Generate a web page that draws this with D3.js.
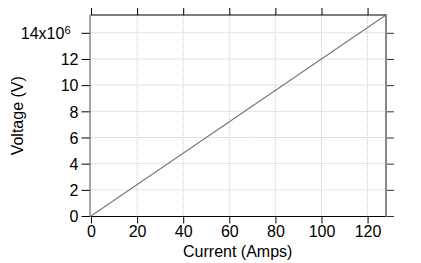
<!DOCTYPE html>
<html><head><meta charset="utf-8">
<script src="https://cdn.jsdelivr.net/npm/d3@7"></script>
<style>body{margin:0;background:#fff}svg{display:block}text{font-family:"Liberation Sans",Arial,sans-serif}</style>
</head><body><svg id="c" width="421" height="263"></svg>
<script>
const current = [0, 128];
const voltage = [0, 15.36e6];
const xTicks = [0, 20, 40, 60, 80, 100, 120];
const yTicks = [0, 2e6, 4e6, 6e6, 8e6, 10e6, 12e6, 14e6];
const yTickLabels = ["0", "2", "4", "6", "8", "10", "12", "14"];
const xLabel = "Current (Amps)";
const yLabel = "Voltage (V)";

const svg = d3.select("#c");
const L = 90.5, R = 386, T = 15, B = 216.5;
const x = d3.scaleLinear().domain([0, 128]).range([L + 0.5, R]);
const y = d3.scaleLinear().domain([0, 15.36e6]).range([B - 0.5, T]);

// grid
const g = svg.append("g");
g.selectAll(".gx").data(xTicks.slice(1)).join("line")
  .attr("x1", d => x(d)).attr("x2", d => x(d)).attr("y1", T).attr("y2", B)
  .attr("stroke", "#c8c8c8").attr("stroke-width", 1).attr("stroke-dasharray", "1,1");
g.selectAll(".gy").data(yTicks.slice(1)).join("line")
  .attr("x1", L).attr("x2", R).attr("y1", d => y(d)).attr("y2", d => y(d))
  .attr("stroke", "#c8c8c8").attr("stroke-width", 1).attr("stroke-dasharray", "1,1");

// data line
svg.append("path").datum(current.map((c, i) => [c, voltage[i]]))
  .attr("d", d3.line().x(d => x(d[0])).y(d => y(d[1])))
  .attr("fill", "none").attr("stroke", "#777").attr("stroke-width", 1.1);

function styleAxis(sel, col, w) {
  sel.select(".domain").remove();
  sel.selectAll(".tick line").attr("stroke", col).attr("stroke-width", w);
  sel.selectAll(".tick text").attr("fill", "#000").style("font-size", "16px")
    .style("font-family", '"Liberation Sans",Arial,sans-serif');
}
// bottom axis
const ax = svg.append("g").attr("transform", `translate(0,${B})`)
  .call(d3.axisBottom(x).tickValues(xTicks).tickSize(7).tickPadding(2).tickFormat(d3.format("d")));
styleAxis(ax, "#000", 1);
// top axis
const axt = svg.append("g").attr("transform", `translate(0,${T})`)
  .call(d3.axisTop(x).tickValues(xTicks).tickSize(7).tickFormat(""));
styleAxis(axt, "#000", 1);
// left axis
const ay = svg.append("g").attr("transform", `translate(${L},0)`)
  .call(d3.axisLeft(y).tickValues(yTicks).tickSize(9).tickPadding(3).tickFormat((d, i) => yTickLabels[i]));
styleAxis(ay, "#000", 1);
ay.selectAll(".tick text").attr("dy", "0.36em");
ay.selectAll(".tick text").filter(d => d === 14e6).text(null).attr("dx", "-8")
  .call(t => { t.append("tspan").text("14x10"); t.append("tspan").attr("dy", "-0.5em").style("font-size", "11px").text("6"); });
// right axis
const ayr = svg.append("g").attr("transform", `translate(${R},0)`)
  .call(d3.axisRight(y).tickValues(yTicks).tickSize(8).tickFormat(""));
styleAxis(ayr, "#333", 1);

// frame lines
svg.append("line").attr("x1", L).attr("x2", R).attr("y1", B).attr("y2", B).attr("stroke", "#000").attr("stroke-width", 1.2);
svg.append("line").attr("x1", L).attr("x2", R + 1).attr("y1", T).attr("y2", T).attr("stroke", "#000").attr("stroke-width", 1.2);
svg.append("line").attr("x1", L - 0.5).attr("x2", L - 0.5).attr("y1", T).attr("y2", B).attr("stroke", "#777").attr("stroke-width", 1.3);
svg.append("line").attr("x1", R).attr("x2", R).attr("y1", T).attr("y2", B).attr("stroke", "#888").attr("stroke-width", 2);

// labels
svg.append("text").attr("x", (L + R) / 2 - 0.5).attr("y", 257).attr("text-anchor", "middle")
  .style("font-size", "16px").text(xLabel);
svg.append("text").attr("transform", `translate(23,${(T + B) / 2}) rotate(-90)`).attr("text-anchor", "middle")
  .style("font-size", "16px").text(yLabel);
</script></body></html>
